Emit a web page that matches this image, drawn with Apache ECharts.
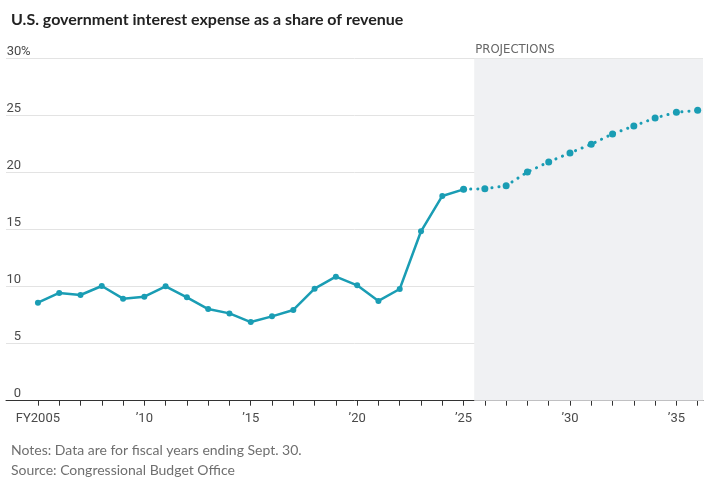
<!DOCTYPE html>
<html>
<head>
<meta charset="utf-8">
<script src="https://cdn.jsdelivr.net/npm/echarts@6/dist/echarts.min.js"></script>
<style>
    html, body { margin: 0; padding: 0; background: #fff; }
    #chart { width: 710px; height: 488px; }
</style>
</head>
<body>
<div id="chart"></div>
<script>
    // fiscal years, actual
    var actualYears = [2005, 2006, 2007, 2008, 2009, 2010, 2011, 2012, 2013, 2014, 2015,
        2016, 2017, 2018, 2019, 2020, 2021, 2022, 2023, 2024, 2025];
    var actualValues = [8.6, 9.45, 9.27, 10.06, 8.95, 9.12, 10.03, 9.07, 8.04, 7.66, 6.9,
        7.4, 7.96, 9.83, 10.88, 10.12, 8.75, 9.8, 14.86, 17.96, 18.54];
    // CBO projections
    var projYears = [2025, 2026, 2027, 2028, 2029, 2030, 2031, 2032, 2033, 2034, 2035, 2036];
    var projValues = [18.54, 18.6, 18.86, 20.06, 20.94, 21.73, 22.5, 23.4, 24.1, 24.8, 25.3, 25.47];
    var labelYears = [2005, 2010, 2015, 2020, 2025, 2030, 2035];
    var tickYears = [];
    for (var y = 2005; y <= 2036; y++) tickYears.push(y);

    var teal = '#1a9db4';
    var narrow = '"DejaVu Sans Condensed", Roboto, sans-serif';
    var chart = echarts.init(document.getElementById('chart'));

    function pairs(xs, vs) {
        return xs.map(function (x, i) { return [x, vs[i]]; });
    }

    var option = {
        animation: false,
        textStyle: {fontFamily: 'Roboto'},
        title: [
            {
                text: 'U.S. government interest expense as a share of revenue',
                left: 6,
                top: 7,
                textStyle: {
                    fontFamily: 'Lato',
                    fontSize: 16,
                    fontWeight: 'bold',
                    color: '#222'
                }
            },
            {
                text: 'Notes: Data are for fiscal years ending Sept. 30.\nSource: Congressional Budget Office',
                left: 6,
                top: 435,
                textStyle: {
                    fontFamily: 'Lato',
                    fontSize: 14,
                    fontWeight: 'normal',
                    lineHeight: 20,
                    color: '#6f6f6f'
                }
            }
        ],
        grid: {left: 6, right: 7, top: 58.7, bottom: 87.3},
        xAxis: {
            type: 'value',
            min: 2003.5,
            max: 2036.25,
            splitLine: {show: false},
            axisLine: {lineStyle: {color: '#333', width: 1}},
            axisTick: {
                show: true,
                length: 5,
                customValues: tickYears,
                lineStyle: {color: '#333'}
            },
            axisLabel: {
                customValues: labelYears,
                margin: 12,
                fontSize: 13,
                color: '#4a4a4a',
                formatter: function (v) {
                    if (v === 2005) return 'FY2005';
                    return '\u2019' + String(v).slice(2);
                }
            }
        },
        yAxis: {
            type: 'value',
            min: 0,
            max: 30,
            interval: 5,
            axisLine: {show: false},
            axisTick: {show: false},
            splitLine: {lineStyle: {color: '#e3e3e3', width: 1}},
            axisLabel: {
                inside: true,
                margin: 1,
                verticalAlign: 'bottom',
                fontSize: 13,
                color: '#4a4a4a',
                formatter: function (v) {
                    return v === 30 ? '{n|30}%' : '{n|' + v + '}';
                },
                rich: {
                    n: {width: 14, align: 'right', fontSize: 13, color: '#4a4a4a', verticalAlign: 'bottom'}
                }
            }
        },
        series: [
            {
                name: 'actual',
                type: 'line',
                data: pairs(actualYears, actualValues),
                symbol: 'circle',
                symbolSize: 6,
                itemStyle: {color: teal},
                lineStyle: {color: teal, width: 2.5},
                z: 3,
                markArea: {
                    silent: true,
                    itemStyle: {color: '#f0f1f3'},
                    label: {
                        show: true,
                        position: [1, -16],
                        fontFamily: narrow,
                        fontSize: 13,
                        color: '#666',
                        formatter: 'PROJECTIONS'
                    },
                    data: [[{xAxis: 2025.5}, {xAxis: 2036.25}]]
                }
            },
            {
                name: 'projection',
                type: 'line',
                data: pairs(projYears, projValues),
                symbol: 'circle',
                symbolSize: 7,
                itemStyle: {color: teal},
                lineStyle: {color: teal, width: 3, type: [0.1, 7], cap: 'round'},
                z: 3
            }
        ]
    };
    chart.setOption(option);
</script>
</body>
</html>
